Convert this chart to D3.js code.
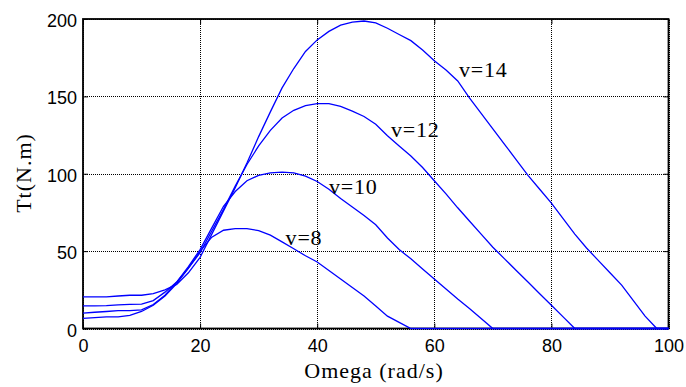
<!DOCTYPE html>
<html>
<head>
<meta charset="utf-8">
<script src="https://cdn.jsdelivr.net/npm/d3@7"></script>
<style>
  html, body { margin: 0; padding: 0; background: #fff; }
  svg { display: block; }
  .tick text { font-family: "Liberation Sans", Arial, sans-serif; font-size: 18px; fill: #000; }
  .title { font-family: "Liberation Serif", "Times New Roman", serif; fill: #000; }
</style>
</head>
<body>
<svg id="chart"></svg>
<script>
// data
const omega = [0, 2, 4, 6, 8, 10, 12, 14, 16, 18, 20, 22, 24, 26, 28, 30, 32, 34, 36, 38,
  40, 42, 44, 46, 48, 50, 52, 54, 56, 58, 60, 62, 64, 66, 68, 70, 72, 74, 76, 78,
  80, 82, 84, 86, 88, 90, 92, 94, 96, 98, 100];

const tt_v8 = [6.5, 7, 7.5, 7.5, 8.5, 11, 15, 21, 29, 39, 50, 59, 63.5, 64.5, 64.5, 63.3, 60.3, 56, 51.5, 47,
  43, 37.5, 32, 26.5, 21, 14.5, 8, 4, 0, 0, 0, 0, 0, 0, 0, 0, 0, 0, 0, 0,
  0, 0, 0, 0, 0, 0, 0, 0, 0, 0, 0];
const tt_v10 = [10, 10.5, 11, 11.5, 11.5, 12, 15.5, 21.5, 30, 40, 51, 65, 79, 88.5, 95.5, 99, 100.5, 101, 100.5, 98.5,
  95, 90, 84, 78.5, 73, 67, 58.5, 51, 45, 38.5, 32, 25.5, 19, 13, 6.5, 0, 0, 0, 0, 0,
  0, 0, 0, 0, 0, 0, 0, 0, 0, 0, 0];
const tt_v12 = [14.6, 14.6, 14.8, 15.3, 15.6, 15.8, 18, 23.5, 30, 39, 49, 63, 77, 92, 106, 118, 128, 136, 141, 144,
  145.3, 145.3, 143.5, 140.5, 137, 132, 124.5, 118, 111.5, 104, 95.5, 87, 78, 69.5, 61, 52.5, 45, 37.5, 30, 22.5,
  15, 7.5, 0, 0, 0, 0, 0, 0, 0, 0, 0];
const tt_v14 = [20.5, 20.5, 20.5, 21, 21.5, 21.5, 22.5, 25, 28.5, 36, 46, 61, 76, 91, 107, 124, 140, 155.5, 168, 179,
  186.5, 192, 196, 198, 198.7, 197.5, 194, 190, 186, 180, 173, 167, 160, 149, 139, 129, 119, 109, 99, 90,
  81, 71, 61, 52, 44, 36, 28, 18, 8, 0, 0];

const series = [tt_v8, tt_v10, tt_v12, tt_v14];
const labels = ["v=8", "v=10", "v=12", "v=14"];
const labelOmega = [34.6, 42, 52.6, 64.2];
const labelTt = [54, 87.2, 123.5, 162.3];

const xTicks = [0, 20, 40, 60, 80, 100];
const yTicks = [0, 50, 100, 150, 200];

const width = 686, height = 387;
const margin = { left: 83, right: 686 - 668.5, top: 19, bottom: 387 - 328.5 };
const iw = width - margin.left - margin.right;
const ih = height - margin.top - margin.bottom;

const svg = d3.select("#chart").attr("width", width).attr("height", height);
const g = svg.append("g").attr("transform", `translate(${margin.left},${margin.top})`);

const x = d3.scaleLinear().domain([0, 100]).range([0, iw]);
const y = d3.scaleLinear().domain([0, 200]).range([ih, 0]);

// dotted grid
g.append("g")
  .attr("transform", `translate(0,${ih})`)
  .call(d3.axisBottom(x).tickValues(xTicks).tickSize(-ih).tickFormat(""))
  .call(a => a.select(".domain").remove())
  .selectAll("line").attr("stroke", "#000").attr("stroke-dasharray", "1,1")
  .attr("shape-rendering", "crispEdges");
g.append("g")
  .call(d3.axisLeft(y).tickValues(yTicks).tickSize(-iw).tickFormat(""))
  .call(a => a.select(".domain").remove())
  .selectAll("line").attr("stroke", "#000").attr("stroke-dasharray", "1,1")
  .attr("shape-rendering", "crispEdges");

// inward ticks on all four sides
g.append("g").attr("transform", `translate(0,${ih})`)
  .call(d3.axisBottom(x).tickValues(xTicks).tickSize(-5).tickFormat(""))
  .call(a => a.select(".domain").remove());
g.append("g")
  .call(d3.axisTop(x).tickValues(xTicks).tickSize(-5).tickFormat(""))
  .call(a => a.select(".domain").remove());
g.append("g")
  .call(d3.axisLeft(y).tickValues(yTicks).tickSize(-5).tickFormat(""))
  .call(a => a.select(".domain").remove());
g.append("g").attr("transform", `translate(${iw},0)`)
  .call(d3.axisRight(y).tickValues(yTicks).tickSize(-5).tickFormat(""))
  .call(a => a.select(".domain").remove());

// tick labels
g.append("g").attr("transform", `translate(0,${ih})`)
  .call(d3.axisBottom(x).tickValues(xTicks).tickSize(0).tickPadding(11))
  .call(a => a.select(".domain").remove());
g.append("g")
  .call(d3.axisLeft(y).tickValues(yTicks).tickSize(0).tickPadding(6))
  .call(a => a.select(".domain").remove())
  .selectAll("text").attr("dy", "0.42em");

g.selectAll(".tick text").attr("font-family", null).attr("font-size", null);

// frame (under the curves, the zero segments lie on the bottom edge)
g.append("rect")
  .attr("width", iw).attr("height", ih)
  .attr("fill", "none").attr("stroke", "#000").attr("stroke-width", 1.8);

// curves
const line = d3.line()
  .x((d, i) => x(omega[i]))
  .y(d => y(d));

g.selectAll(".curve")
  .data(series)
  .enter()
  .append("path")
  .attr("class", "curve")
  .attr("d", line)
  .attr("fill", "none")
  .attr("stroke", "#0000ff")
  .attr("stroke-width", 1.3);

// curve labels
g.selectAll(".vlabel")
  .data(labels)
  .enter()
  .append("text")
  .attr("class", "title")
  .attr("x", (d, i) => x(labelOmega[i]))
  .attr("y", (d, i) => y(labelTt[i]))
  .attr("font-size", 22)
  .attr("letter-spacing", "0.8px")
  .text(d => d);

// axis titles
svg.append("text")
  .attr("class", "title")
  .attr("x", 374).attr("y", 378)
  .attr("text-anchor", "middle")
  .attr("font-size", 22)
  .attr("letter-spacing", "1px")
  .text("Omega (rad/s)");

svg.append("text")
  .attr("class", "title")
  .attr("transform", "translate(31,173) rotate(-90)")
  .attr("text-anchor", "middle")
  .attr("font-size", 22)
  .attr("letter-spacing", "1px")
  .text("Tt(N.m)");
</script>
</body>
</html>
